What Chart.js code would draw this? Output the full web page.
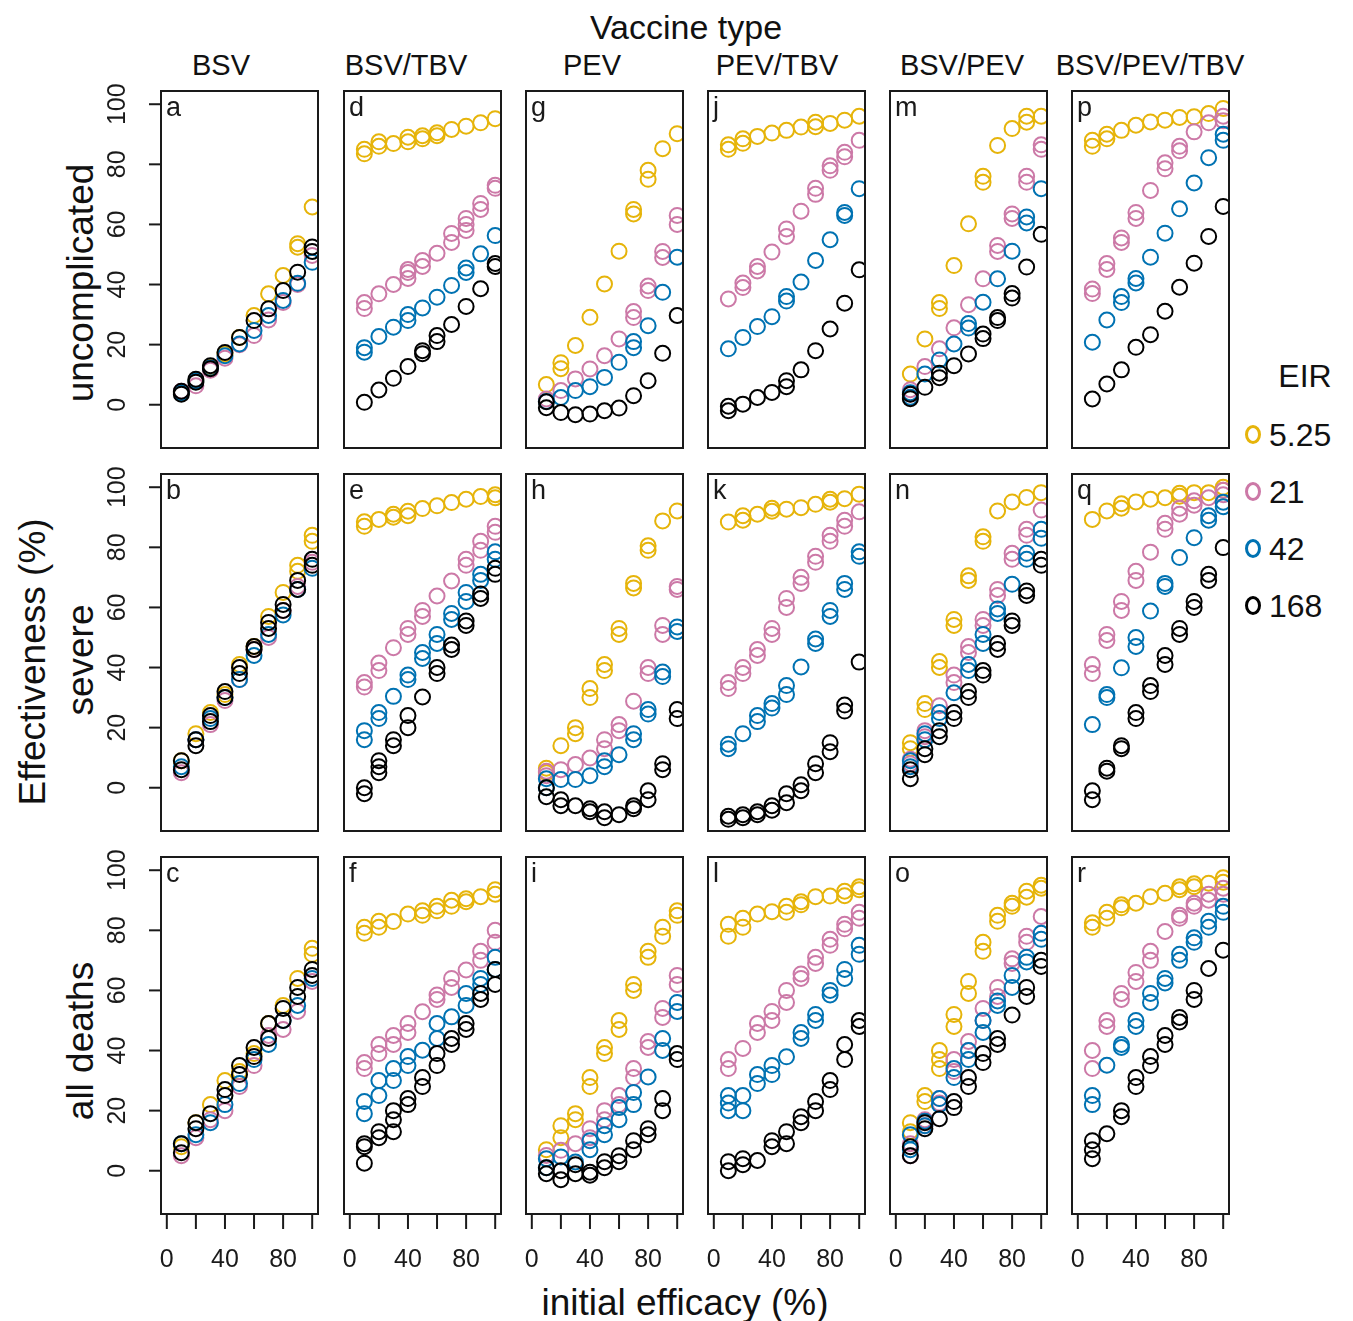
<!DOCTYPE html>
<html lang="en">
<head>
<meta charset="UTF-8">
<title>Vaccine effectiveness by initial efficacy</title>
<script src="https://cdn.jsdelivr.net/npm/chart.js"></script>
<style>
    body {
        margin: 0;
        background: #ffffff;
        font-family: 'Liberation Sans', Arial, sans-serif;
        color: #111111;
    }
    #figure {
        position: relative;
        width: 1353px;
        height: 1321px;
        overflow: hidden;
    }
    #figure canvas {
        position: absolute;
    }
    .label {
        position: absolute;
        white-space: nowrap;
        transform: translate(-50%, -50%);
        line-height: 1;
    }
    .rot {
        transform: translate(-50%, -50%) rotate(-90deg);
    }
    .legend-item {
        position: absolute;
        font-size: 32px;
        line-height: 1;
        white-space: nowrap;
        transform: translateY(-50%);
    }
    .legend-item span {
        display: inline-block;
        width: 10px;
        height: 13px;
        border: 3.5px solid;
        border-radius: 50%;
        margin-right: 8px;
        vertical-align: 2px;
    }
</style>
</head>
<body>
<div id="figure">
    <div class="label" style="left:686px; top:27px; font-size:34px;">Vaccine type</div>
    <div class="label rot" style="left:32px; top:662px; font-size:37px;">Effectiveness (%)</div>
    <div class="label" style="left:685px; top:1302px; font-size:37px;">initial efficacy (%)</div>
    <div class="label" style="left:1305px; top:376px; font-size:32px;">EIR</div>
</div>

<script>
    // x values shared by every panel (initial efficacy, %)
    const efficacy = [10, 20, 30, 40, 50, 60, 70, 80, 90, 100];
    const vaccineTypes = ['BSV', 'BSV/TBV', 'PEV', 'PEV/TBV', 'BSV/PEV', 'BSV/PEV/TBV'];
    const outcomes = ['uncomplicated', 'severe', 'all deaths'];
    const eirLevels = ['5.25', '21', '42', '168'];
    const eirColors = ['#E6B40A', '#CC79A7', '#0072B2', '#000000'];
    const yTicks = [0, 20, 40, 60, 80, 100];
    const xTicks = [0, 20, 40, 60, 80, 100];
    const xTickLabels = [0, 40, 80];

    // Each panel: [EIR 5.25, EIR 21, EIR 42, EIR 168]; an inner list holds replicate runs
    // uncomplicated
    const panelA = [
        [4, 8, 12.4, 16.9, 22.4, 29.7, 36.9, 43, [52.4, 53.6], 65.8],
        [4.5, 6.3, 11.5, 15.5, 20, 23, 28.2, 34, 40, 49.7],
        [4, 8, 12.2, 16.3, 20.2, 24.7, 29.7, 34.7, 40.4, 47.4],
        [[3.5, 4.5], [7.5, 8.5], [12, 13], 17.4, 22.4, 28, 31.9, 38, 44.1, [51, 52.5]]
    ];
    const panelD = [
        [[83.5, 85], [86, 87.5], 86.9, [87.5, 89], [88.5, 89.5], [89.5, 90.5], 91.6, 92.7, 93.8, 95.2],
        [[32, 34], 36.9, 40, [42, 44, 45], [46, 48], 50.4, [54, 57], [58, 60, 62], [65, 67], [72, 73]],
        [[17.5, 19], 22.7, 25.8, [28, 30], 32.2, 35.8, 39.7, [44, 45.5], 50.2, 56.3],
        [0.8, 4.9, 8.8, 12.7, [17, 18], [21, 23], 26.7, 32.7, 38.6, [46, 47]]
    ];
    const panelG = [
        [6.7, [12, 14], 19.7, 29.1, 40.2, 51.1, [63.5, 65], [75, 78], 85.2, 90.2],
        [1.9, 4.7, 8.6, 11.9, 16.3, 21.9, [29, 31], [38, 39.5], [49, 51], [60, 63]],
        [1.1, 2.4, 4.7, 6, 9.1, 14.1, [19, 21], 26.3, 37.4, 49.1],
        [[-1, 1], -2.6, -3.3, -3.1, -2, -1.1, 3, 8, 17.1, 29.7]
    ];
    const panelJ = [
        [[85, 86.5], [87, 88.5], 89.3, 90.4, 91.3, 92.4, [92.5, 94], 93.6, 94.7, 96],
        [35.2, [39, 40.5], [44.5, 46], 50.8, [56, 58.5], 64.4, [70, 72], [78, 79.5], [82.5, 84], 88],
        [18.6, 22.4, 26, 29.3, [34.5, 36], 40.8, 48, 54.9, [63, 64], 71.9],
        [[-2, -0.5], 0.2, 2.4, 4.1, [6, 8], 11.6, 18, 25.2, 33.8, 44.9]
    ];
    const panelM = [
        [10.2, 21.9, [32, 34], 46.3, 60.2, [74, 76], 86.3, 91.9, [94, 96], 96],
        [[3.5, 5], 12.7, 18.6, 25.6, 33.3, 41.9, [51, 53], [62, 63.5], [74, 76], [85, 86.5]],
        [[2.5, 4], 10.2, 14.9, 20.2, [25.5, 27], 34.1, 41.9, 51.1, [60.5, 62.5], 71.9],
        [[2, 3.5], 5.8, [9, 10.5], 13, 16.9, [22, 23.5], [28, 29], [35.5, 37], 45.8, 56.7]
    ];
    const panelP = [
        [[86, 88], [88.5, 90], 91.3, 93, 94.1, 94.7, 95.6, 95.8, 96.9, 98.6],
        [[37, 38.5], [45, 47], [54, 55.5], [62, 64], 71.3, [78.5, 80.5], [84.5, 86], 90.8, 93.8, [94.5, 96]],
        [20.8, 28.2, [34, 36], [40.5, 42], 49.1, 57.1, 65.2, 73.8, 82.2, [88, 90]],
        [1.9, 6.9, 11.6, 19.1, 23.3, 31.1, 39.1, 47.1, 56, 66]
    ];
    // severe
    const panelB = [
        [9, 18, 25, 31, 41, 47, 57, 65, [72, 74], [82, 84]],
        [5, 16, 21, 29, 36, 46, 50, 59, 67, 75],
        [7, 16, 23, 30, 36, 44, 51, 57.5, 66, 73],
        [[6, 9], [14, 16], [22, 24], [30, 32], [38, 40], [46, 47], [53, 55], [59, 61], [66, 69], [74, 76]]
    ];
    const panelE = [
        [[87, 88.5], 89.3, [90, 91], [90.5, 92], 92.9, 93.8, 94.9, 96, 96.9, [96.5, 97.5]],
        [[33.5, 35], [39, 41.5], 46.6, [51, 53], [57, 59], 63.8, 68.8, [74, 76], [79, 82], [85, 87]],
        [[16, 19], [23, 25], 30.4, [36, 37.5], [43, 45], [48, 51], [56, 58], [62, 65], [69, 71], [76, 78.5]],
        [[-2, 0], [5, 7, 9], [14, 16], [20, 24], 30.2, [38, 40], [46, 47.5], [54, 55.5], [63, 64.5], [71, 73]]
    ];
    const panelH = [
        [[5, 6.5], 14, [18, 20], [30, 33], [39, 41], [51, 53], [66.5, 68], [79, 80.5], 88.8, 92.1],
        [[4, 5.5], 6, 7.7, 9.9, [13, 16], [19, 21], 28.8, [38, 40], [51, 54], [66, 67]],
        [[0, 3], 2.7, 2.7, 4, [7, 9], 11, [16, 18], [24.5, 26], [37, 38.5], [52, 53.5]],
        [[-3, 0], [-6, -4], -6, [-8, -7], [-10, -8], -9, [-7, -6], [-4, -1], [6, 8], [23, 26]]
    ];
    const panelK = [
        [88.4, [89, 90.5], 91, [92, 93], 92.7, 93.2, 94.3, [95, 96], 96.2, 97.7],
        [[33, 35], [38, 40], [44, 46], [51, 53], [60, 63], [68, 70], [75, 77], [82, 84], [87, 89], 91.8],
        [[13, 14.5], 18, [22, 24], [26.5, 28], [31, 34], 40.2, [48, 49.5], [57, 59], [66, 68], [77, 78.5]],
        [[-10.5, -9.5], [-10, -9], [-9, -8], [-7.5, -6], [-5, -2], [-1, 1], [5, 8], [12, 15], [25.5, 27.5], 41.8]
    ];
    const panelN = [
        [[13, 15], [26, 28], [40, 42], [54, 56], [69, 70.5], [82, 83.5], 92.1, 95.1, 96.6, 98.2],
        [[8, 9.5], [17, 19], 27.3, [35, 37.5], [45, 47], [54, 56], [64, 66], [76, 78], [84, 86], 92.4],
        [[7, 9], [16, 18], [23, 25], 31.6, [39, 41], [48, 51], [58, 59.5], 67.7, [76, 78], [83, 86]],
        [[3, 6], [11, 13], [17, 19], [23, 25], [30, 32], [37.5, 39], [46, 48], [54, 55.5], [64, 65.5], [74, 76]]
    ];
    const panelQ = [
        [89.3, 92.1, [93, 94.5], 95.1, 96, 96.5, [97, 98], 98.2, 98.2, [99, 100]],
        [[38, 41], [49, 51], [59, 62], [69, 72], 78.4, [86, 88], [91, 93], [94, 95.5], 96.5, [97.5, 99]],
        [21, [30, 31], 39.9, [47, 50], 58.8, [67, 68], 76.6, 83.2, [89, 90.5], [93.5, 95]],
        [[-4, -1], [5.5, 6.5], [13, 14], [23, 25], [32, 34], [41, 44], [51, 53], [60, 62], [69, 71], 79.9]
    ];
    // all deaths
    const panelC = [
        [8, 16, 22, 30, 33, 39, 49, 55, 64, [72, 74]],
        [5, 11, 17, 20, 28, 35, 45, 47, 53, 63],
        [9, 12, 16, 22, 29, 37, 42, 50, 55, 64],
        [[6, 9], [14, 16], 19, [25, 27], [32, 35], [38, 41], [44, 49], [50, 54], [58, 61], [65, 67]]
    ];
    const panelF = [
        [[79, 81], [81, 83], 82.9, 85.4, [85, 86.5], [86.5, 88], [88, 90], [89.5, 90.5], 91.2, [92, 93.5]],
        [[34, 36], [39, 42], [42, 45], [46, 49], 52.9, [57, 58.5], [61, 64], 66.8, [70, 73], [76, 80]],
        [[19, 23], [25, 30], [30, 34], [35, 38], 40.1, [44, 49], 51.2, [55, 59], [62, 64], [67, 71]],
        [[2.5, 8, 9], [11, 13], [13, 17, 20], [22, 24], [28, 31], [35, 39], [42, 44], [47, 49], [57, 59], [62, 67]]
    ];
    const panelI = [
        [7, [11, 15], [17, 19], [28, 31], [39, 41], [47, 50], [60, 62], [71, 73], [78, 81], [85, 86.5]],
        [5.1, 6.8, 9, [11, 14], [17, 20], [22, 25], [31, 34], [41, 43], [51, 54], [62, 65]],
        [[1, 4], 4.6, 2.9, [7, 10], [12, 15], [17, 21], [22, 26], 31.2, [40, 44], [53, 56]],
        [[-1, 1], [-3, 0], [-1, 2], [-1.5, -0.5], [1, 3], [3, 5], [7, 10], [12, 14], [20, 24], [37, 39]]
    ];
    const panelL = [
        [[78, 82], [81, 84], 85.4, 86.2, [86, 88], [88.5, 89.5], 91.2, 91.4, [91.5, 93], [93.5, 94.5]],
        [[34, 37], 40.7, [46, 49], [50, 53], [56, 60], [64, 65.5], [69, 71], [75, 77], [80.5, 82], [84, 86]],
        [[20, 22.5, 25], [20, 25], [29, 32], [32, 35], 37.9, [44, 46], [50, 52], [58.5, 60], [64, 67], [72, 75]],
        [[0, 3], [2, 4], 3.4, [8, 10], [9, 13], [16, 18], [20, 23], [27, 30], [37, 42], [48, 50]]
    ];
    const panelO = [
        [[13, 16], [23, 25], [34, 37, 40], [48, 52], [59, 63], [73, 76], [83, 85], [88, 89], [91, 93], [94, 95]],
        [[5, 9], [15, 17], [22.5, 24], [33, 37], [40, 43], [50, 54], [58, 61], [69, 70.5], [76, 78], 84.6],
        [[7, 12], [15, 16.5], [22, 24], [31, 34], [37, 40], [46, 50], [55, 56.5], [61, 65], [69.5, 71], [77, 79]],
        [[5, 8], [14, 16], 17.3, [21, 23], [28, 31], [36, 39], [42, 44], 51.8, [58, 61], [68, 70]]
    ];
    const panelR = [
        [[81, 82.5], [84, 86], [87.5, 88.5], 89, 91.2, 92.3, [93.5, 94.5], [94.5, 95.5], 95.7, [96, 97.5]],
        [[34, 40], [48, 50], [57, 59], [63, 66], [70, 73], 79.6, [84, 85], [88, 89], [90, 92], [92, 94]],
        [[22, 25], 35.1, [41, 42], [48, 50], [56, 59], [62.5, 64], [70, 72], [76, 77.5], [81, 83], [86, 88]],
        [[4, 7, 10], 12.3, [18, 20], [28, 31], [35, 38], [42, 45], [49.5, 51], [57, 60], 67.3, 73.4]
    ];

    const panelGrid = [
        [panelA, panelD, panelG, panelJ, panelM, panelP],
        [panelB, panelE, panelH, panelK, panelN, panelQ],
        [panelC, panelF, panelI, panelL, panelO, panelR]
    ];
    const panelLetters = [
        ['a', 'd', 'g', 'j', 'm', 'p'],
        ['b', 'e', 'h', 'k', 'n', 'q'],
        ['c', 'f', 'i', 'l', 'o', 'r']
    ];

    // page layout (px)
    const colLeft = [161, 344, 526, 708, 890, 1072];
    const rowTop = [91, 474, 857];
    const boxW = 157, boxH = 357;
    const titleX = [221, 406, 592, 777, 962, 1150];
    const outcomeY = [283, 660, 1041];
    const fontFamily = '"Liberation Sans", Arial, sans-serif';

    const figure = document.getElementById('figure');

    function addLabel(text, x, y, size, rotated) {
        const el = document.createElement('div');
        el.className = rotated ? 'label rot' : 'label';
        el.style.left = x + 'px';
        el.style.top = y + 'px';
        el.style.fontSize = size + 'px';
        el.textContent = text;
        figure.appendChild(el);
    }

    vaccineTypes.forEach((v, c) => addLabel(v, titleX[c], 65, 29, false));
    outcomes.forEach((o, r) => addLabel(o, 80, outcomeY[r], 37, true));

    // EIR legend
    eirLevels.forEach((lvl, i) => {
        const item = document.createElement('div');
        item.className = 'legend-item';
        item.style.left = '1245px';
        item.style.top = (435 + i * 57) + 'px';
        item.innerHTML = '<span style="border-color:' + eirColors[i] + '"></span>' + lvl;
        figure.appendChild(item);
    });

    // flatten a series (with replicate lists) into scatter points
    function toPoints(series) {
        const pts = [];
        efficacy.forEach((x, i) => {
            [].concat(series[i]).forEach(y => pts.push({x: x, y: y}));
        });
        return pts;
    }

    // frame, tick marks, tick labels and panel letter
    const panelFrame = {
        id: 'panelFrame',
        afterDraw(chart, args, opts) {
            const ctx = chart.ctx;
            const a = chart.chartArea;
            const xs = chart.scales.x, ys = chart.scales.y;
            ctx.save();
            ctx.strokeStyle = '#1a1a1a';
            ctx.lineWidth = 2;
            ctx.strokeRect(a.left, a.top, a.right - a.left, a.bottom - a.top);
            ctx.fillStyle = '#1a1a1a';

            ctx.font = '27px ' + fontFamily;
            ctx.textAlign = 'left';
            ctx.textBaseline = 'alphabetic';
            ctx.fillText(opts.letter, a.left + 5, a.top + 25);

            ctx.font = '25px ' + fontFamily;
            if (opts.yAxis) {
                yTicks.forEach(v => {
                    const py = ys.getPixelForValue(v);
                    ctx.beginPath();
                    ctx.moveTo(a.left - 12, py);
                    ctx.lineTo(a.left, py);
                    ctx.stroke();
                    ctx.save();
                    ctx.translate(a.left - 43, py);
                    ctx.rotate(-Math.PI / 2);
                    ctx.textAlign = 'center';
                    ctx.textBaseline = 'middle';
                    ctx.fillText(String(v), 0, 0);
                    ctx.restore();
                });
            }
            if (opts.xAxis) {
                xTicks.forEach(v => {
                    const px = xs.getPixelForValue(v);
                    ctx.beginPath();
                    ctx.moveTo(px, a.bottom);
                    ctx.lineTo(px, a.bottom + 15);
                    ctx.stroke();
                });
                ctx.textAlign = 'center';
                ctx.textBaseline = 'middle';
                xTickLabels.forEach(v => {
                    ctx.fillText(String(v), xs.getPixelForValue(v), a.bottom + 46);
                });
            }
            ctx.restore();
        }
    };

    panelGrid.forEach((row, r) => {
        row.forEach((panel, c) => {
            const pad = {
                left: c === 0 ? 70 : 3,
                right: 3,
                top: c === 0 ? 26 : 3,
                bottom: r === 2 ? 70 : 3
            };
            const canvas = document.createElement('canvas');
            canvas.width = boxW + pad.left + pad.right;
            canvas.height = boxH + pad.top + pad.bottom;
            canvas.style.left = (colLeft[c] - pad.left) + 'px';
            canvas.style.top = (rowTop[r] - pad.top) + 'px';
            figure.appendChild(canvas);

            // black drawn last (on top), so list it first
            const datasets = [3, 2, 1, 0].map(k => ({
                label: 'EIR ' + eirLevels[k],
                data: toPoints(panel[k]),
                borderColor: eirColors[k],
                backgroundColor: 'rgba(0,0,0,0)',
                pointRadius: 7.5,
                pointHoverRadius: 7.5,
                pointBorderWidth: 2,
                clip: 0
            }));

            new Chart(canvas.getContext('2d'), {
                type: 'scatter',
                data: {datasets: datasets},
                options: {
                    responsive: false,
                    animation: false,
                    devicePixelRatio: 1,
                    events: [],
                    layout: {padding: pad, autoPadding: false},
                    scales: {
                        x: {type: 'linear', min: -4, max: 104, display: false},
                        y: {type: 'linear', min: -14.4, max: 104.4, display: false}
                    },
                    plugins: {
                        legend: {display: false},
                        tooltip: {enabled: false},
                        panelFrame: {
                            letter: panelLetters[r][c],
                            yAxis: c === 0,
                            xAxis: r === 2
                        }
                    }
                },
                plugins: [panelFrame]
            });
        });
    });
</script>
</body>
</html>
